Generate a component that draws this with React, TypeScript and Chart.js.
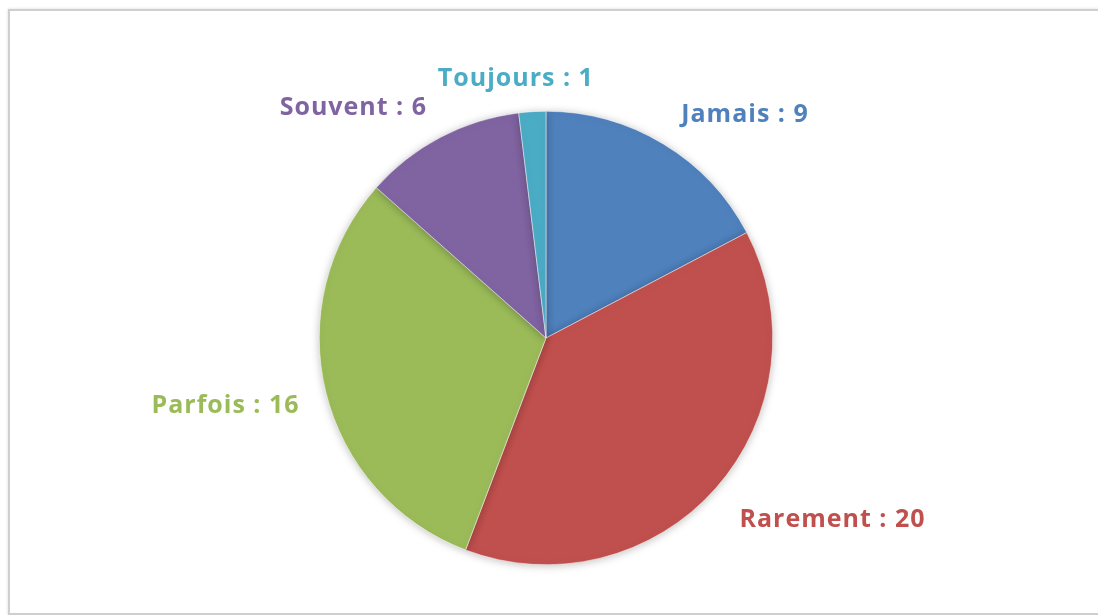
import React, { useEffect, useRef } from "react";
import { Chart, registerables } from "chart.js";

Chart.register(...registerables);

const categories = ["Jamais", "Rarement", "Parfois", "Souvent", "Toujours"];
const values = [9, 20, 16, 6, 1];
const colors = ["#4F81BD", "#C0504D", "#9BBB59", "#8064A2", "#4BACC6"];

const labelPlugin = {
  id: "outerLabels",
  afterDatasetsDraw(chart: any) {
    const { ctx } = chart;
    const meta = chart.getDatasetMeta(0);
    ctx.save();
    ctx.font = "bold 25px 'Open Sans', Lato, sans-serif";
    try {
      (ctx as any).letterSpacing = "1px";
    } catch (e) {}
    meta.data.forEach((arc: any, i: number) => {
      const { x, y, startAngle, endAngle, outerRadius } = arc.getProps(
        ["x", "y", "startAngle", "endAngle", "outerRadius"],
        true
      );
      const mid = (startAngle + endAngle) / 2;
      const c = Math.cos(mid);
      const s = Math.sin(mid);
      const d = outerRadius + 25;
      const px = x + c * d;
      const py = y + s * d;
      const text = `${categories[i]} : ${values[i]}`;
      ctx.fillStyle = colors[i];
      const left = c > 0.3;
      const right = c < -0.3;
      ctx.textAlign = left ? "left" : right ? "right" : "center";
      ctx.textBaseline = s < -0.3 ? "bottom" : s > 0.3 ? "top" : "middle";
      const dx = left ? 5 : right ? -2 : -15;
      const dy = s < -0.3 ? 5 : s > 0.3 ? 2 : 8;
      ctx.fillText(text, px + dx, py + dy);
    });
    ctx.restore();
  },
};

const shadowPlugin = {
  id: "pieShadow",
  beforeDatasetsDraw(chart: any) {
    const ctx = chart.ctx;
    ctx.save();
    ctx.shadowColor = "rgba(0,0,0,0.25)";
    ctx.shadowBlur = 8;
    ctx.shadowOffsetX = 0;
    ctx.shadowOffsetY = 1;
  },
  afterDatasetsDraw(chart: any) {
    chart.ctx.restore();
  },
};

export default function App() {
  const ref = useRef<HTMLCanvasElement | null>(null);
  useEffect(() => {
    if (!ref.current) return;
    const chart = new Chart(ref.current, {
      type: "pie",
      data: {
        labels: categories,
        datasets: [
          {
            data: values,
            backgroundColor: colors,
            borderColor: "#ffffff",
            borderWidth: 0.5,
          },
        ],
      },
      options: {
        animation: false,
        responsive: false,
        maintainAspectRatio: false,
        layout: { padding: { top: 111, bottom: 50, left: 319, right: 325 } },
        plugins: {
          legend: { display: false },
          tooltip: { enabled: false },
        },
      },
      plugins: [shadowPlugin, labelPlugin],
    });
    return () => chart.destroy();
  }, []);

  return (
    <div style={{ position: "fixed", left: 0, top: 0, width: 1098, height: 615, background: "#fff", overflow: "hidden" }}>
      <div
        style={{
          position: "absolute",
          left: 8,
          top: 9,
          width: 1100,
          height: 602,
          border: "2px solid #cfcfcf",
          boxShadow: "0 0 3px rgba(0,0,0,0.15)",
        }}
      />
      <canvas ref={ref} width={1098} height={615} style={{ position: "absolute", left: 0, top: 0 }} />
    </div>
  );
}
